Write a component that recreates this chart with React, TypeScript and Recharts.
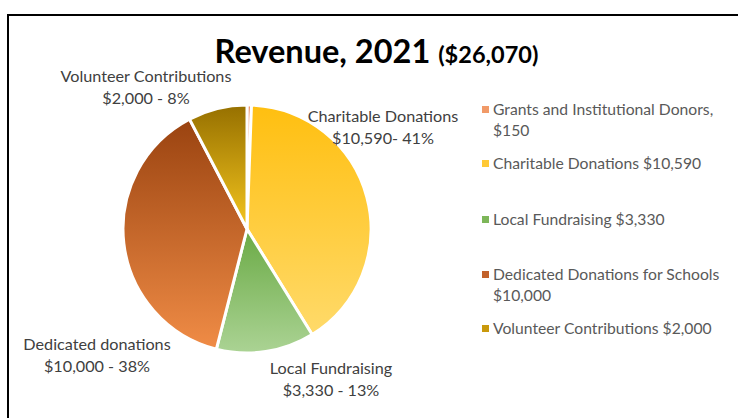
import { PieChart, Pie, Cell } from "recharts";

// Revenue 2021, clockwise from 12 o'clock
const NAMES = [
  "Grants and Institutional Donors",
  "Charitable Donations",
  "Local Fundraising",
  "Dedicated Donations for Schools",
  "Volunteer Contributions",
];
const VALUES = [150, 10590, 3330, 10000, 2000];
const LABEL_NAMES = ["", "Charitable Donations", "Local Fundraising", "Dedicated donations", "Volunteer Contributions"];
const LEGEND_TEXT = [
  "Grants and Institutional Donors,\n$150",
  "Charitable Donations $10,590",
  "Local Fundraising $3,330",
  "Dedicated Donations for Schools\n$10,000",
  "Volunteer Contributions $2,000",
];

const TOTAL = VALUES.reduce((a, b) => a + b, 0);
const data = NAMES.map((name, i) => ({ name, value: VALUES[i], label: LABEL_NAMES[i] }));

// top -> bottom gradient stops per slice
const GRADIENTS = [
  ["#e97a45", "#f4b183"],
  ["#ffbf10", "#ffda6a"],
  ["#6aaa45", "#abd394"],
  ["#9a4310", "#f08c46"],
  ["#967000", "#f5c61e"],
];
const LEGEND_COLORS = ["#f19a68", "#ffc936", "#7db659", "#c2622b", "#c9990c"];

// label block offsets from the pie centre (Excel best-fit placement)
const LABEL_OFFSET: Record<string, [number, number]> = {
  "Charitable Donations": [136, -102],
  "Local Fundraising": [84, 150],
  "Dedicated donations": [-150, 126],
  "Volunteer Contributions": [-101, -142],
};

const FONT = "Lato, 'Liberation Sans', sans-serif";

function renderLabel(props: any) {
  const { cx, cy, payload, value, percent } = props;
  const name = payload?.label ?? props.label;
  if (!name) return null;
  const [dx, dy] = LABEL_OFFSET[name];
  const sep = name === "Charitable Donations" ? "- " : " - ";
  const line2 = `$${value.toLocaleString("en-US")}${sep}${Math.round(percent * 100)}%`;
  const x = cx + dx;
  const y = cy + dy;
  return (
    <text x={x} y={y} textAnchor="middle" fill="#404040" fontSize={16.2} fontFamily={FONT}>
      <tspan x={x} dy={-5}>{name}</tspan>
      <tspan x={x} dy={21.5}>{line2}</tspan>
    </text>
  );
}

export default function App() {
  return (
    <div style={{ position: "absolute", left: 0, top: 0, width: 738, height: 418, background: "#fff", overflow: "hidden" }}>
      <div
        style={{
          position: "absolute",
          left: 7,
          top: 14,
          width: 760,
          height: 440,
          borderLeft: "2px solid #000",
          borderTop: "2px solid #000",
        }}
      />
      <div
        style={{
          position: "absolute",
          left: 0,
          top: 31,
          width: 753,
          textAlign: "center",
          fontFamily: FONT,
          fontWeight: 700,
          color: "#000",
          whiteSpace: "nowrap",
        }}
      >
        <span style={{ fontSize: 32.5 }}>Revenue, 2021 </span>
        <span style={{ fontSize: 23.5 }}>(${TOTAL.toLocaleString("en-US")})</span>
      </div>
      <div style={{ position: "absolute", left: 0, top: 0 }}>
        <PieChart width={738} height={418} margin={{ top: 0, right: 0, bottom: 0, left: 0 }}>
          <defs>
            {GRADIENTS.map(([a, b], i) => (
              <linearGradient key={i} id={`slice-${i}`} x1="0" y1="0" x2="0" y2="1">
                <stop offset="0%" stopColor={a} />
                <stop offset="100%" stopColor={b} />
              </linearGradient>
            ))}
          </defs>
          <Pie
            data={data}
            dataKey="value"
            nameKey="name"
            cx={247}
            cy={229}
            outerRadius={124}
            startAngle={90}
            endAngle={-270}
            stroke="#fff"
            strokeWidth={3}
            label={renderLabel}
            labelLine={false}
            isAnimationActive={false}
          >
            {data.map((d, i) => (
              <Cell key={d.name} fill={`url(#slice-${i})`} />
            ))}
          </Pie>
        </PieChart>
      </div>
      <div style={{ position: "absolute", left: 482, top: 99, fontFamily: FONT, fontSize: 15.7, color: "#595959" }}>
        {LEGEND_TEXT.map((t, i) => (
          <div key={i} style={{ position: "relative", height: i === 2 ? 55 : i === 1 ? 56 : 54, lineHeight: "21px" }}>
            <span
              style={{
                position: "absolute",
                left: 0,
                top: 7,
                width: 7,
                height: 7,
                background: LEGEND_COLORS[i],
              }}
            />
            <div style={{ marginLeft: 11, whiteSpace: "pre-line" }}>{t}</div>
          </div>
        ))}
      </div>
    </div>
  );
}
